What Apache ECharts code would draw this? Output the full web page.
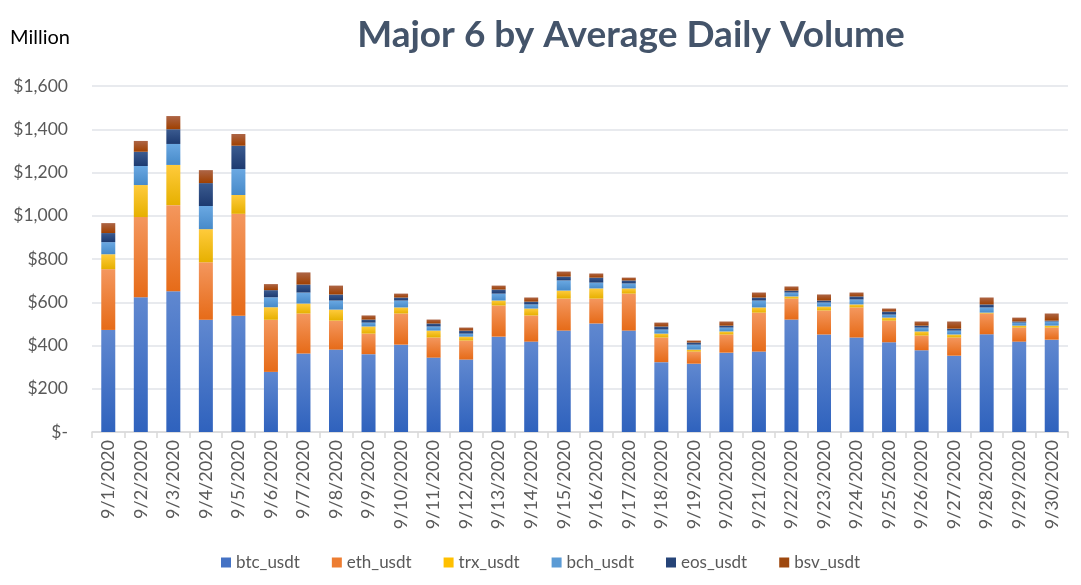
<!DOCTYPE html>
<html><head><meta charset="utf-8">
<script src="https://cdn.jsdelivr.net/npm/echarts@6/dist/echarts.min.js"></script>
<style>html,body{margin:0;padding:0;background:#fff}#c{width:1081px;height:585px}</style>
</head><body><div id="c"></div>
<script>
const categories = ['9/1/2020','9/2/2020','9/3/2020','9/4/2020','9/5/2020','9/6/2020','9/7/2020','9/8/2020','9/9/2020','9/10/2020','9/11/2020','9/12/2020','9/13/2020','9/14/2020','9/15/2020','9/16/2020','9/17/2020','9/18/2020','9/19/2020','9/20/2020','9/21/2020','9/22/2020','9/23/2020','9/24/2020','9/25/2020','9/26/2020','9/27/2020','9/28/2020','9/29/2020','9/30/2020'];
const btc_usdt = [472,623,651,519,537,278,363,381,360,404,344,335,441,418,469,502,469,323,316,367,372,520,451,437,415,378,353,452,418,427];
const eth_usdt = [281,371,398,266,472,241,185,134,95,144,93,88,144,121,148,115,171,114,56,84,180,97,111,139,100,68,84,96,65,56];
const trx_usdt = [69,148,186,153,87,58,46,51,33,28,32,18,23,32,37,47,24,18,9,14,24,10,18,14,14,19,14,4,9,9];
const bch_usdt = [56,88,97,107,120,46,51,42,18,32,19,14,32,19,47,27,23,19,23,18,32,18,19,23,14,18,18,24,14,19];
const eos_usdt = [42,66,68,106,108,33,37,28,14,14,14,14,19,13,18,23,14,14,10,9,14,9,9,14,14,9,9,14,5,4];
const bsv_usdt = [46,50,61,60,54,28,56,41,19,18,18,14,18,19,23,19,13,18,9,19,23,19,28,18,14,19,33,32,18,33];
const yTicks = [0,200,400,600,800,1000,1200,1400,1600];

function grad(top, bottom){
  return new echarts.graphic.LinearGradient(0,0,0,1,[{offset:0,color:top},{offset:1,color:bottom}]);
}
const seriesDefs = [
  ['btc_usdt', btc_usdt, '#6088d0', '#2f62bd', '#4472C4'],
  ['eth_usdt', eth_usdt, '#f4975e', '#e66b18', '#ED7D31'],
  ['trx_usdt', trx_usdt, '#ffcb3c', '#e6b000', '#FFC000'],
  ['bch_usdt', bch_usdt, '#6aa8e2', '#478ac9', '#5B9BD5'],
  ['eos_usdt', eos_usdt, '#3b5b90', '#1d3a70', '#264478'],
  ['bsv_usdt', bsv_usdt, '#ad6546', '#a04000', '#9E480E']
];
const chart = echarts.init(document.getElementById('c'), null, {renderer:'canvas'});
const fontFam = 'Lato, "Open Sans", sans-serif';
chart.setOption({
  animation:false,
  backgroundColor:'#ffffff',
  title:{text:'Major 6 by Average Daily Volume', left:626, top:12, textAlign:'center',
    textStyle:{fontFamily:fontFam, fontSize:37, fontWeight:'bold', color:'#44546A'}},
  graphic:[{type:'text', left:10, top:28, style:{text:'Million', font:'20px '+fontFam, fill:'#000'}}],
  legend:{bottom:9, left:'center', itemWidth:10, itemHeight:10, itemGap:32, icon:'rect',
    textStyle:{fontFamily:fontFam, fontSize:17, color:'#595959'},
    data:seriesDefs.map(s=>({name:s[0], itemStyle:{color:s[4]}}))},
  grid:{left:92, right:13, top:86, bottom:153},
  xAxis:{type:'category', data:categories, boundaryGap:true,
    axisLine:{lineStyle:{color:'#d9d9d9', width:1.5}},
    axisTick:{show:true, length:6, lineStyle:{color:'#d9d9d9', width:1.5}},
    axisLabel:{rotate:90, fontFamily:fontFam, fontSize:18, color:'#595959', margin:8, interval:0}},
  yAxis:{type:'value', min:0, max:1600, interval:200,
    axisLine:{show:false}, axisTick:{show:false},
    splitLine:{lineStyle:{color:'#e0e3e8', width:1.5}},
    axisLabel:{fontFamily:fontFam, fontSize:17.5, color:'#595959', margin:24,
      formatter:v=> v===0 ? '$-' : '$'+v.toLocaleString('en-US')}},
  series:seriesDefs.map(s=>({name:s[0], type:'bar', stack:'total', data:s[1], barWidth:14,
    itemStyle:{color:grad(s[2], s[3])}}))
});
</script></body></html>
